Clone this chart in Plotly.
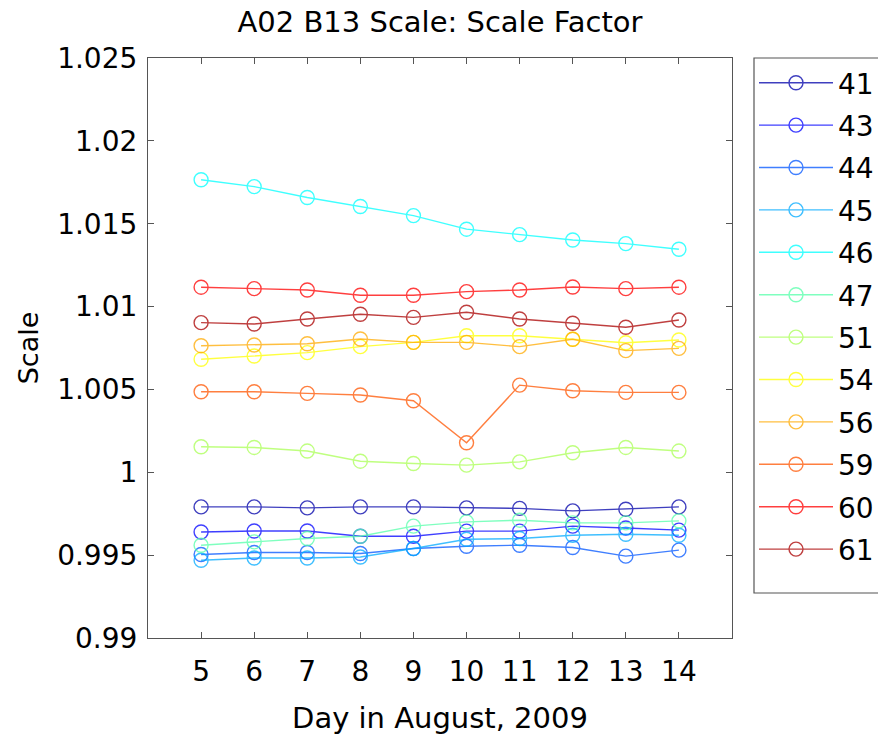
import plotly.graph_objects as go

days = [5, 6, 7, 8, 9, 10, 11, 12, 13, 14]
names = ["41", "43", "44", "45", "46", "47", "51", "54", "56", "59", "60", "61"]

s41 = [0.99791, 0.99791, 0.99785, 0.99791, 0.99791, 0.99785, 0.99782, 0.99767, 0.99777, 0.99791]
s43 = [0.99640, 0.99646, 0.99646, 0.99614, 0.99614, 0.99645, 0.99645, 0.99675, 0.99664, 0.99651]
s44 = [0.99504, 0.99516, 0.99516, 0.99510, 0.99540, 0.99554, 0.99560, 0.99546, 0.99494, 0.99530]
s45 = [0.99469, 0.99483, 0.99483, 0.99489, 0.99540, 0.99596, 0.99600, 0.99620, 0.99626, 0.99620]
s46 = [1.01765, 1.01724, 1.01658, 1.01604, 1.01549, 1.01467, 1.01434, 1.01402, 1.01380, 1.01346]
s47 = [0.99560, 0.99580, 0.99600, 0.99614, 0.99675, 0.99701, 0.99711, 0.99695, 0.99695, 0.99707]
s51 = [1.00154, 1.00150, 1.00128, 1.00067, 1.00053, 1.00043, 1.00063, 1.00118, 1.00150, 1.00128]
s54 = [1.00682, 1.00702, 1.00722, 1.00758, 1.00784, 1.00824, 1.00824, 1.00803, 1.00782, 1.00798]
s56 = [1.00764, 1.00768, 1.00776, 1.00804, 1.00784, 1.00784, 1.00758, 1.00803, 1.00734, 1.00748]
s59 = [1.00486, 1.00486, 1.00476, 1.00466, 1.00432, 1.00178, 1.00526, 1.00492, 1.00482, 1.00482]
s60 = [1.01117, 1.01108, 1.01100, 1.01068, 1.01068, 1.01090, 1.01100, 1.01118, 1.01108, 1.01117]
s61 = [1.00903, 1.00895, 1.00925, 1.00954, 1.00935, 1.00966, 1.00925, 1.00899, 1.00875, 1.00919]

series = [s41, s43, s44, s45, s46, s47, s51, s54, s56, s59, s60, s61]

# MATLAB jet(12)
colors = [
    "rgb(0,0,170)", "rgb(0,0,255)", "rgb(0,85,255)", "rgb(0,170,255)",
    "rgb(0,255,255)", "rgb(85,255,170)", "rgb(170,255,85)", "rgb(255,255,0)",
    "rgb(255,170,0)", "rgb(255,85,0)", "rgb(255,0,0)", "rgb(170,0,0)",
]

yticks = [0.99, 0.995, 1.0, 1.005, 1.01, 1.015, 1.02, 1.025]
yticklabels = ["0.99", "0.995", "1", "1.005", "1.01", "1.015", "1.02", "1.025"]

FONT = "DejaVu Sans"
fig = go.Figure()
for i, (nm, vals) in enumerate(zip(names, series)):
    fig.add_trace(go.Scatter(
        x=days, y=vals, name=nm, mode="lines+markers",
        line=dict(color=colors[i], width=1.4),
        marker=dict(symbol="circle-open", size=14, color=colors[i],
                    line=dict(width=1.4, color=colors[i])),
        opacity=0.75,
        legendgroup=nm,
    ))

axis_common = dict(
    showline=True, linecolor="#555555", linewidth=1.2, mirror="ticks",
    ticks="inside", ticklen=6, tickcolor="#555555", tickwidth=1,
    showgrid=False, zeroline=False,
    tickfont=dict(family=FONT, size=28, color="black"),
)

# legend frame (drawn as a paper-referenced rectangle so its padding matches)
fig.add_shape(type="rect", xref="paper", yref="paper",
              x0=606 / 584, x1=2.0, y0=45 / 580, y1=1.0,
              line=dict(color="#555555", width=1.2), fillcolor="rgba(0,0,0,0)",
              layer="above")

fig.update_layout(
    width=878, height=738,
    margin=dict(l=148, r=146, t=58, b=100, autoexpand=False),
    paper_bgcolor="white", plot_bgcolor="white",
    title=dict(text="A02 B13 Scale: Scale Factor", x=0.5, xref="paper",
               y=1 - 22/738, yanchor="middle",
               font=dict(family=FONT, size=29, color="black")),
    xaxis=dict(range=[4, 15], tickvals=days, ticktext=[str(d) for d in days],
               title=dict(text="Day in August, 2009", font=dict(family=FONT, size=29, color="black"), standoff=20),
               ticklabelstandoff=8,
               **axis_common),
    yaxis=dict(range=[0.99, 1.025], tickvals=yticks, ticktext=yticklabels,
               title=dict(text="Scale", font=dict(family=FONT, size=27, color="black"), standoff=10),
               ticklabelstandoff=4,
               **axis_common),
    legend=dict(x=(754 - 148) / 584, y=1, xanchor="left", yanchor="top",
                xref="paper", yref="paper",
                borderwidth=0, bgcolor="rgba(0,0,0,0)",
                font=dict(family=FONT, size=28, color="black"),
                tracegroupgap=3, itemwidth=74),
    showlegend=True,
)

fig.write_html("out.html", config={"displayModeBar": False},
               post_script="document.body.style.margin='0px';")
